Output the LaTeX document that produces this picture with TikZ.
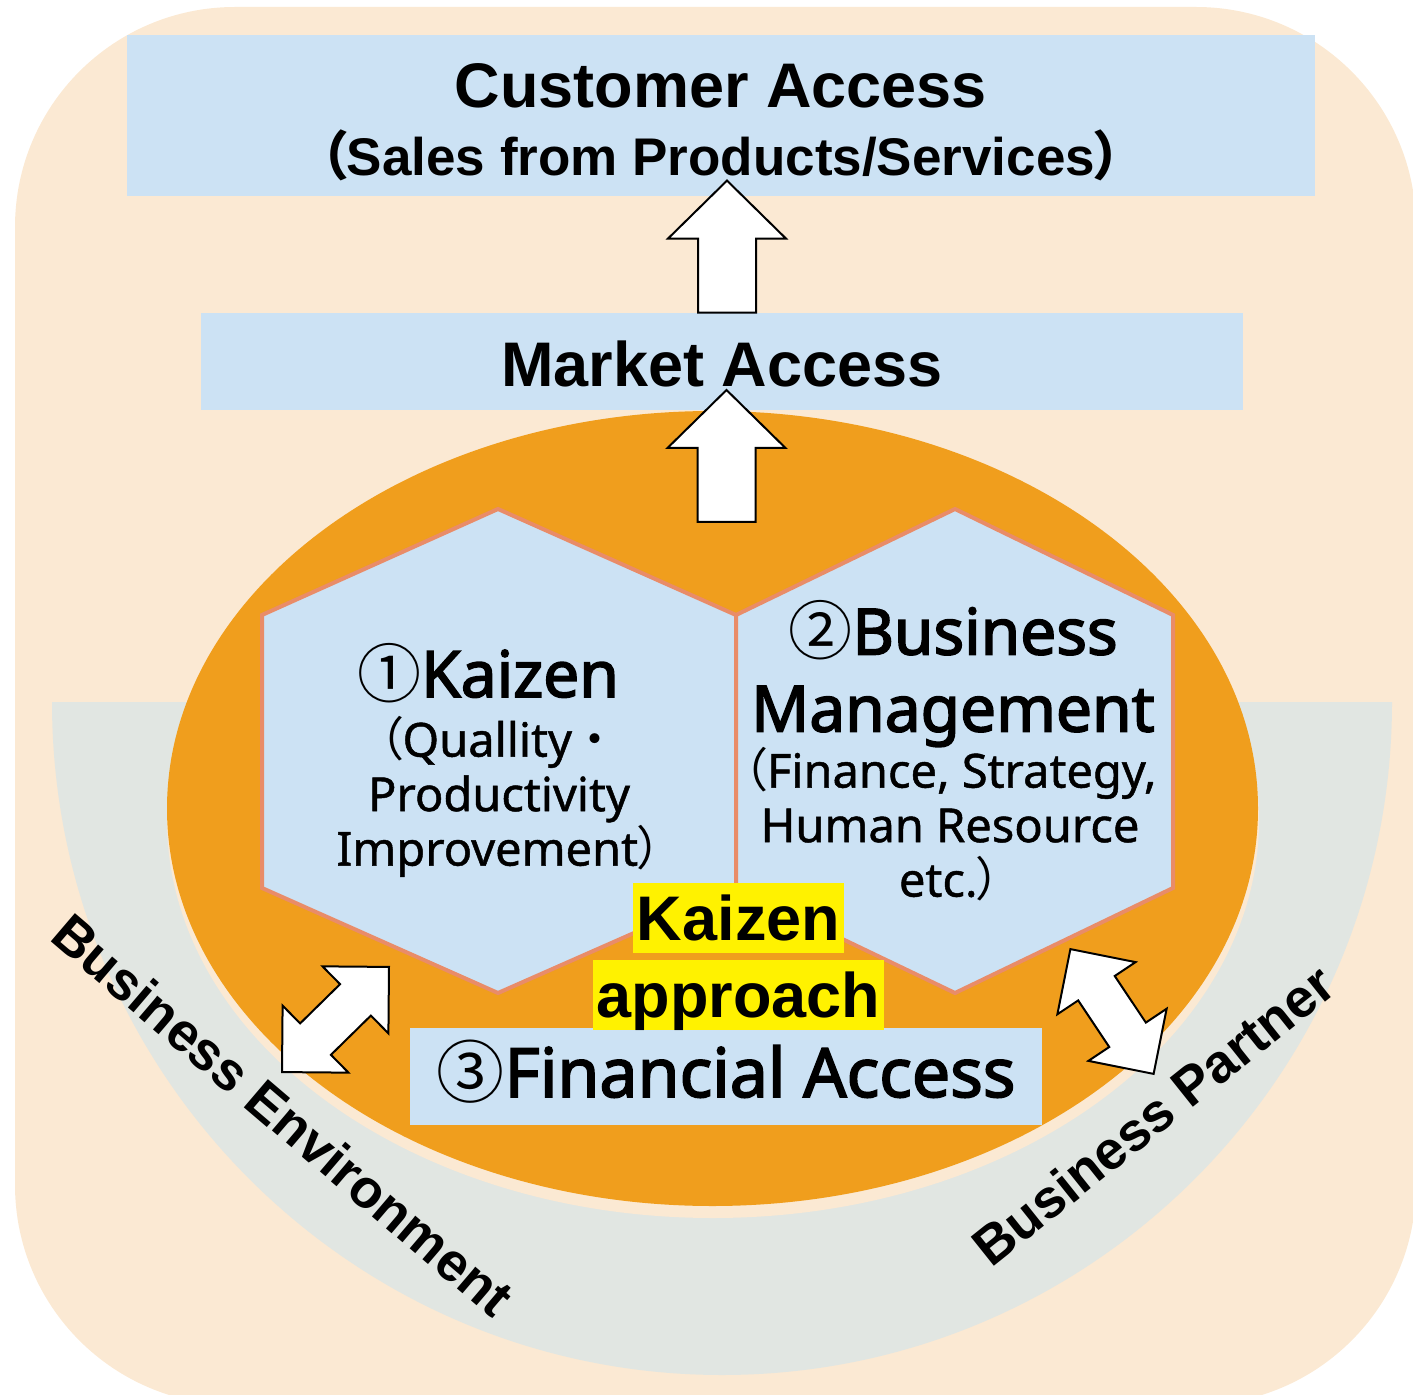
\documentclass[tikz,border=0pt]{standalone}
\usepackage{fontspec}
\setmainfont{Liberation Sans}
\newfontfamily\notofont{Noto Sans}[AutoFakeBold=2.5]
\newfontfamily\notomed{Noto Sans}[FakeBold=1]
\newfontfamily\cjkfont{Noto Sans CJK JP}[RawFeature=+palt]
\newfontfamily\cjkwide{Noto Sans CJK JP}
\usetikzlibrary{positioning}

\definecolor{creambg}{HTML}{FBE9D3}
\definecolor{boxblue}{HTML}{CCE2F4}
\definecolor{ringorange}{HTML}{F09E1D}
\definecolor{bandgray}{HTML}{E1E6E2}
\definecolor{hexline}{HTML}{E98C68}

\newcommand{\cj}[1]{{\cjkfont #1}}
\newcommand{\cnum}[1]{{\cjkfont\mdseries #1}}

\begin{document}
\begin{tikzpicture}[x=0.5pt, y=-0.5pt, line join=miter,
  bluebox/.style={fill=boxblue, inner sep=0pt},
  headtext/.style={font=\bfseries\fontsize{31.5}{38}\selectfont},
  subhead/.style={font=\bfseries\fontsize{26.5}{32}\selectfont, inner sep=0pt},
  hextitle/.style={font=\notofont\bfseries\fontsize{32}{38.5}\selectfont, inner sep=0pt, align=center},
  hexsub/.style={font=\notomed\fontsize{23.5}{27.25}\selectfont, inner sep=0pt, align=center},
  fintext/.style={font=\notofont\bfseries\fontsize{34}{38}\selectfont},
  hilite/.style={fill=yellow, font=\bfseries\fontsize{31.5}{38}\selectfont,
    inner xsep=2pt, inner ysep=0pt, text height=28.5pt, text depth=6.7pt},
  bandtext/.style={font=\bfseries\fontsize{27}{32}\selectfont, inner sep=0pt},
  hexshape/.style={fill=boxblue, draw=hexline, line width=2pt},
  blockarrow/.style={draw=black, fill=white, line width=1pt},
  blockup/.pic={\draw[blockarrow] (-29,0) -- (-29,-74) -- (-59,-74) -- (0,-132)
    -- (59,-74) -- (29,-74) -- (29,0) -- cycle;},
  blockboth/.pic={\draw[blockarrow] (-75,0) -- (-28,-47) -- (-28,-22) -- (28,-22)
    -- (28,-47) -- (75,0) -- (28,47) -- (28,22) -- (-28,22) -- (-28,47) -- cycle;}
]
\useasboundingbox (0,0) rectangle (1413,1395);

% background
\fill[creambg, rounded corners=110pt] (15,7) rectangle (1416,1405);
\fill[bandgray] (52,702) arc[start angle=180, end angle=0, x radius=670, y radius=673] -- cycle;
\fill[creambg] (713,820) ellipse [x radius=546, y radius=398];
\fill[ringorange] (712.5,808.5) ellipse [x radius=545.5, y radius=397.5];

% top boxes
\node[bluebox, headtext, minimum width=594pt, text height=36.5pt, text depth=44pt] (customer) at (721,115.5) {Customer Access};
\node[subhead, anchor=base] (sales) at ([yshift=-34pt]customer.base) {\cj{（}Sales from Products/Services\cj{）}};
\node[bluebox, headtext, minimum width=521pt, text height=37pt, text depth=11.5pt] (market) at (722,361.5) {Market Access};

\pic at ([xshift=2.5pt]market.north) {blockup};
\pic at (726.5,522) {blockup};

% hexagons
\path[hexshape] (498,509) -- (736,615) -- (736,888) -- (498,993) -- (262,888) -- (262,615) -- cycle;
\path[hexshape] (955,509) -- (1173,615) -- (1173,888) -- (955,993) -- (736,888) -- (736,615) -- cycle;

\node[hextitle, anchor=base] (kaizen) at (488,697) {\cnum{①}Kaizen};
\node[hexsub, anchor=north] (kaizensub) at (499,716) {\cj{（}Quallity{\cjkwide ・}\\Productivity\\Improvement\cj{）}};
\node[hextitle, anchor=north] (business) at (953,600) {\cnum{②}Business\\Management};
\node[hexsub, anchor=north] (businesssub) at (950,747) {\cj{（}Finance, Strategy,\\Human Resource\\etc.\cj{）}};

% financial access
\node[bluebox, fintext, minimum width=316pt, text height=34.5pt, text depth=14pt] (financial) at (726,1076.5) {\cnum{③}Financial Access};

\node[hilite, anchor=base] (kzntop) at (738.5,940) {Kaizen};
\node[hilite, anchor=base] (kznbot) at ([yshift=-38.5pt]kzntop.base) {approach};

\pic[rotate=44.5] at (335.5,1019.5) {blockboth};
\pic[rotate=-56.3] at (1112,1011.5) {blockboth};

% band labels
\node[bandtext, rotate=-40.5] (environment) at (283,1115) {Business Environment};
\node[bandtext, rotate=38.6] (partner) at (1153,1115) {Business Partner};
\end{tikzpicture}
\end{document}
